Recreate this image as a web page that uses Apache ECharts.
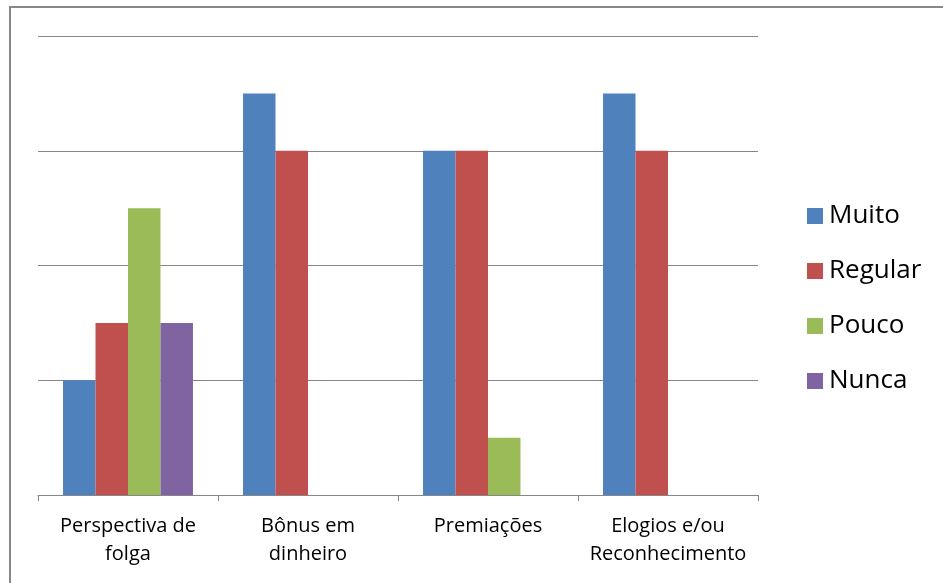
<!DOCTYPE html>
<html>
<head>
<meta charset="utf-8">
<script src="https://cdn.jsdelivr.net/npm/echarts@6/dist/echarts.min.js"></script>
<style>
  * { padding: 0; margin: 0; }
  body { background: #fff; width: 943px; height: 583px; overflow: hidden; position: relative; }
  .frame { position: absolute; left: 9px; top: 6px; width: 960px; height: 600px; border: 2px solid #888; }
  #chart { position: absolute; left: 0; top: 0; width: 943px; height: 583px; }
</style>
</head>
<body>
<div class="frame"></div>
<div id="chart"></div>
<script>
// categorias e valores
var categories = ['Perspectiva de\nfolga', 'Bônus em\ndinheiro', 'Premiações', 'Elogios e/ou\nReconhecimento'];
var muito = [2, 7, 6, 7];
var regular = [3, 6, 6, 6];
var pouco = [5, 0, 1, 0];
var nunca = [3, 0, 0, 0];

var chart = echarts.init(document.getElementById('chart'));
var font = '"Open Sans", "Noto Sans", sans-serif';

chart.setOption({
  animation: false,
  color: ['#4F81BD', '#C0504D', '#9BBB59', '#8064A2'],
  grid: { left: 38, right: 185, top: 36, bottom: 88 },
  legend: {
    orient: 'vertical',
    left: 802,
    top: 198,
    itemWidth: 16,
    itemHeight: 16,
    itemGap: 29,
    icon: 'rect',
    textStyle: { fontSize: 26, lineHeight: 24, fontFamily: font, color: '#000', padding: [0, 0, 0, 1] },
    data: ['Muito', 'Regular', 'Pouco', 'Nunca']
  },
  xAxis: {
    type: 'category',
    data: categories,
    axisLine: { lineStyle: { color: '#868686', width: 1 } },
    axisTick: { show: true, length: 6, lineStyle: { color: '#868686' } },
    axisLabel: { interval: 0, fontSize: 20, fontFamily: font, color: '#000', margin: 17, lineHeight: 28 }
  },
  yAxis: {
    type: 'value',
    min: 0,
    max: 8,
    interval: 2,
    axisLabel: { show: false },
    axisLine: { show: false },
    axisTick: { show: false },
    splitLine: { lineStyle: { color: '#868686', width: 1 } }
  },
  series: [
    { name: 'Muito', type: 'bar', data: muito, barGap: '0%', barCategoryGap: '27.8%' },
    { name: 'Regular', type: 'bar', data: regular },
    { name: 'Pouco', type: 'bar', data: pouco },
    { name: 'Nunca', type: 'bar', data: nunca }
  ]
});
</script>
</body>
</html>
